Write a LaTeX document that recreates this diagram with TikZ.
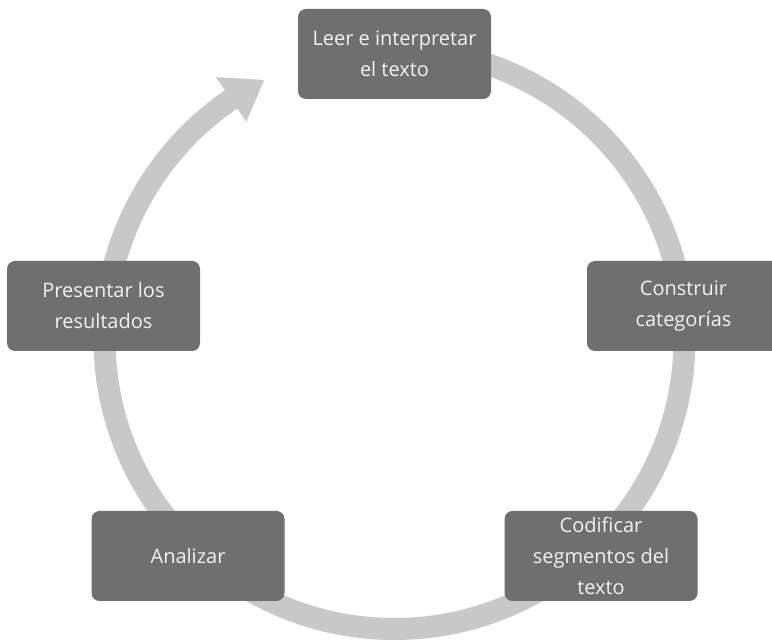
\documentclass[tikz,border=0pt]{standalone}
\usepackage{fontspec}
\setmainfont{Open Sans}
\usetikzlibrary{calc}
\definecolor{ringcol}{HTML}{C8C8C8}
\definecolor{boxcol}{HTML}{6F6F6F}
\definecolor{txtcol}{HTML}{F2F2F2}
\tikzset{
  stepbox/.style={draw=none, fill=boxcol, rounded corners=8pt, minimum width=193pt,
    minimum height=90pt, inner sep=0pt, align=center, text=txtcol,
    font=\fontsize{20}{31}\selectfont},
  ring/.style={draw=ringcol, line width=22pt}
}
\begin{document}
\begin{tikzpicture}[x=1pt, y=1pt]
\useasboundingbox (0,0) rectangle (772,640);
\clip (0,0) rectangle (772,640);
\coordinate (c) at (394.5,301);
% circular arrow
\draw[ring] ($(c)+(90:290)$) arc[start angle=90, end angle=-236, radius=290];
\fill[ringcol] ($(c)+(124.3:317)$) -- ($(c)+(116.7:290)$) -- ($(c)+(124.3:263)$) -- cycle;
% boxes
\node[stepbox] (leer) at (394.5,586) {Leer e interpretar\\el texto};
\node[stepbox] (cons) at (683.5,334) {Construir\\categorías};
\node[stepbox] (codi) at (601,84) {Codificar\\segmentos del\\texto};
\node[stepbox] (anal) at (188,84) {Analizar};
\node[stepbox] (pres) at (103.5,334) {Presentar los\\resultados};
\end{tikzpicture}
\end{document}
